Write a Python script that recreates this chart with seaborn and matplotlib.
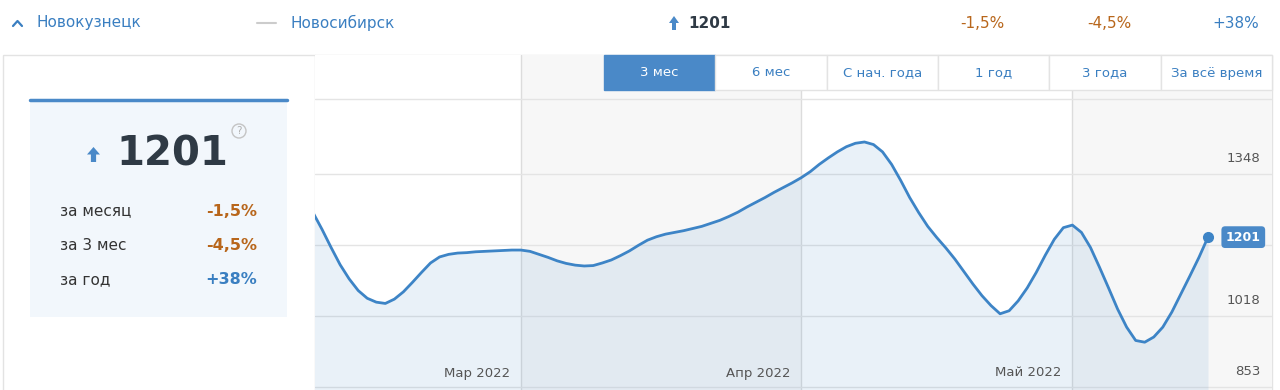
import pandas as pd
import seaborn as sns
import matplotlib.pyplot as plt
import matplotlib.dates as mdates
import matplotlib.transforms as mtransforms
from matplotlib.patches import Rectangle, Polygon, Circle

# Данные (по дням с 6 февраля 2022)
start_date = '2022-02-06'
values = [1258, 1219, 1177, 1137, 1104, 1077, 1059, 1050, 1047, 1057,
          1074, 1096, 1119, 1141, 1155, 1161, 1164, 1165, 1167, 1168,
          1169, 1170, 1171, 1171, 1168, 1161, 1154, 1146, 1140, 1136,
          1134, 1135, 1141, 1148, 1158, 1169, 1182, 1194, 1202, 1208,
          1212, 1216, 1221, 1226, 1233, 1240, 1249, 1259, 1271, 1282,
          1293, 1305, 1316, 1327, 1339, 1353, 1370, 1385, 1399, 1411,
          1419, 1422, 1416, 1399, 1370, 1333, 1293, 1258, 1226, 1200,
          1176, 1150, 1121, 1092, 1065, 1042, 1023, 1030, 1053, 1083,
          1119, 1159, 1196, 1223, 1229, 1212, 1177, 1131, 1083, 1034,
          992, 961, 957, 969, 992, 1027, 1069, 1111, 1154, 1201]

month_starts = ['2022-03-01', '2022-04-01', '2022-05-01']
month_labels = ['Мар 2022', 'Апр 2022', 'Май 2022']
y_ticks = [853, 1018, 1183, 1348]
y_labels = ['853', '1018', '', '1348']
periods = ['3 мес', '6 мес', 'С нач. года', '1 год', '3 года', 'За всё время']
stat_names = ['за месяц', 'за 3 мес', 'за год']
stat_values = ['-1,5%', '-4,5%', '+38%']
current = '1201'
city_main = 'Новокузнецк'
city_other = 'Новосибирск'

BLUE = '#3a7fc1'
LINE = '#3d84c6'
BTN = '#4a89c8'
ORANGE = '#b8661b'
DARK = '#2f3a45'
GREY_TXT = '#555555'
BORDER = '#e3e3e3'

W, H = 1280, 390

sns.set_theme(style='white')
plt.rcParams['font.family'] = ['DejaVu Sans']

fig = plt.figure(figsize=(W / 100, H / 100), dpi=100)

# фон в пикселях: шапка, рамка, карточка
bg = fig.add_axes([0, 0, 1, 1], zorder=0)
bg.set_xlim(0, W)
bg.set_ylim(H, 0)
bg.axis('off')


def up_arrow(axx, cx, top, w, h, color):
    pts = [(cx, top), (cx + w / 2, top + 0.5 * h), (cx + 0.2 * w, top + 0.5 * h),
           (cx + 0.2 * w, top + h), (cx - 0.2 * w, top + h),
           (cx - 0.2 * w, top + 0.5 * h), (cx - w / 2, top + 0.5 * h)]
    axx.add_patch(Polygon(pts, closed=True, fc=color, ec='none'))


# шапка
bg.plot([13, 17.5, 22], [26, 21, 26], color=BLUE, lw=1.6, solid_capstyle='round')
bg.text(36, 23, city_main, color=BLUE, fontsize=11, va='center')
bg.plot([257, 276], [23, 23], color='#cccccc', lw=1.5)
bg.text(290, 23, city_other, color=BLUE, fontsize=11, va='center')
up_arrow(bg, 674, 16, 10, 14, BTN)
bg.text(688, 23, current, color=DARK, fontsize=11, fontweight='bold', va='center')
for xc, val in zip([982, 1109, 1236], stat_values):
    col = BLUE if val.startswith('+') else ORANGE
    bg.text(xc, 23, val, color=col, fontsize=11, ha='center', va='center')

# рамка панели
bg.add_patch(Rectangle((3, 55), 1269, 345, fill=False, ec=BORDER, lw=1))
bg.plot([315, 315], [55, H], color=BORDER, lw=1)

# карточка слева
bg.add_patch(Rectangle((30, 99), 257, 218, fc='#f2f7fc', ec='none'))
bg.plot([30, 287], [100, 100], color=BTN, lw=2.5)
up_arrow(bg, 93.5, 147, 13, 15, BTN)
bg.text(116, 155, current, color=DARK, fontsize=29, fontweight='bold', va='center')
bg.add_patch(Circle((239, 131), 7, fill=False, ec='#c4c4c4', lw=1))
bg.text(239, 131.5, '?', color='#b0b0b0', fontsize=7.5, ha='center', va='center')
for i, (name, val) in enumerate(zip(stat_names, stat_values)):
    yy = 211 + i * 34.5
    col = BLUE if val.startswith('+') else ORANGE
    bg.text(60, yy, name, color='#333333', fontsize=11, va='center')
    bg.text(257, yy, val, color=col, fontsize=11.5, fontweight='bold', ha='right', va='center')

# основной график
ax = fig.add_axes([315 / W, 0, (1272 - 315) / W, (H - 55) / H], zorder=1)
df = pd.DataFrame({'date': pd.date_range(start_date, periods=len(values), freq='D'),
                   'value': values})
months = pd.to_datetime(month_starts)

# первая точка чуть левее рамки (x=313), последняя — x=1208
day_px = (1208 - 313) / (len(values) - 1)
x0 = df['date'].iloc[0] + pd.Timedelta(days=(315 - 313) / day_px)
x1 = x0 + pd.Timedelta(days=(1272 - 315) / day_px)
y0, y1 = 846, 1624
ax.set_xlim(x0, x1)
ax.set_ylim(y0, y1)
ax.set_facecolor('white')

ax.axvspan(months[0], months[1], color='#f7f7f7', lw=0, zorder=0)
ax.axvspan(months[2], x1, color='#f7f7f7', lw=0, zorder=0)
for m in months:
    ax.axvline(m, color='#dcdcdc', lw=1, zorder=1)
for v in y_ticks:
    ax.axhline(v, color='#e4e4e4', lw=1, zorder=1)
top_frac = (H - 99) / (H - 55)
ax.plot([0, 1], [top_frac, top_frac], transform=ax.transAxes, color='#e4e4e4', lw=1, zorder=1)

ax.fill_between(df['date'], df['value'], y0, color=LINE, alpha=0.11, lw=0, zorder=2)
sns.lineplot(data=df, x='date', y='value', ax=ax, color=LINE, lw=2, zorder=4)
ax.plot(df['date'].iloc[-1], df['value'].iloc[-1], 'o', color=LINE, ms=7, zorder=5)

ty = mtransforms.blended_transform_factory(ax.transAxes, ax.transData)
tx = mtransforms.blended_transform_factory(ax.transData, ax.transAxes)
for v, lab in zip(y_ticks, y_labels):
    if lab:
        ax.annotate(lab, xy=(1, v), xycoords=ty, xytext=(-12, 15), textcoords='offset pixels',
                    ha='right', va='center', fontsize=9.5, color=GREY_TXT)
for m, lab in zip(months, month_labels):
    ax.annotate(lab, xy=(mdates.date2num(m), 0), xycoords=tx, xytext=(-11, 17),
                textcoords='offset pixels', ha='right', va='center', fontsize=9.5, color=GREY_TXT)

ax.text(0.970, df['value'].iloc[-1], current, transform=ty, ha='center', va='center',
        fontsize=9, fontweight='bold', color='white', zorder=6,
        bbox=dict(boxstyle='round,pad=0.35,rounding_size=0.3', fc=BTN, ec='none'))

ax.set_xlabel('')
ax.set_ylabel('')
ax.set_xticks([])
ax.set_yticks([])
for s in ax.spines.values():
    s.set_visible(False)

# кнопки периодов
ov = fig.add_axes([0, 0, 1, 1], zorder=2)
ov.set_xlim(0, W)
ov.set_ylim(H, 0)
ov.axis('off')
bw = (1272 - 604) / len(periods)
for i, lab in enumerate(periods):
    bx = 604 + i * bw
    active = i == 0
    ov.add_patch(Rectangle((bx, 55), bw, 35, fc=BTN if active else 'white',
                           ec=BTN if active else BORDER, lw=1))
    ov.text(bx + bw / 2, 73, lab, color='white' if active else BLUE,
            fontsize=9.5, ha='center', va='center')

fig.savefig('out.png', dpi=100)
